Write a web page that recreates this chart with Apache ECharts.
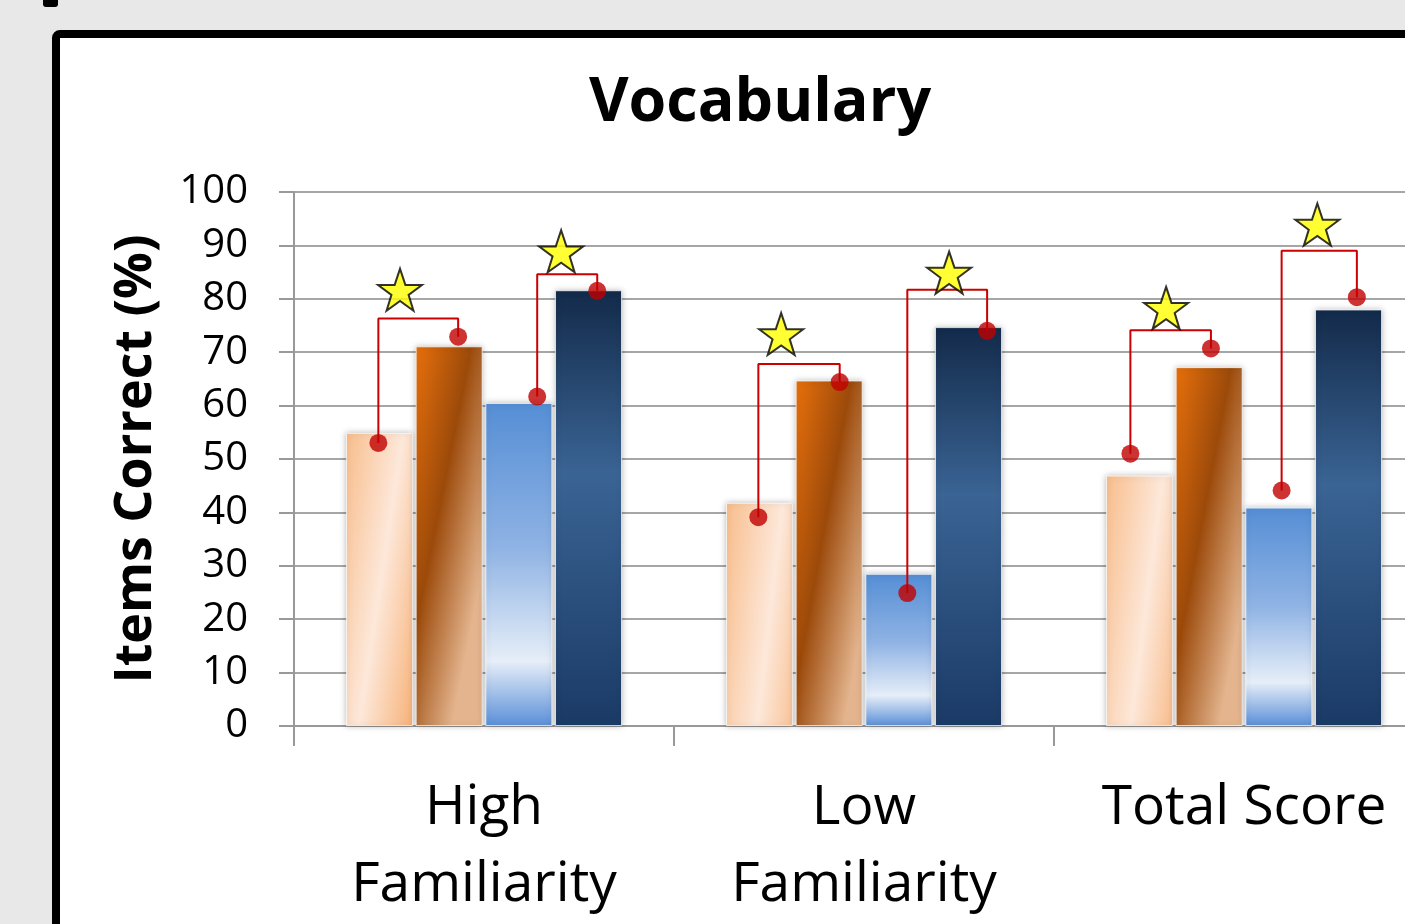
<!DOCTYPE html>
<html>
<head>
<meta charset="UTF-8">
<title>Vocabulary</title>
<style>
  html, body { margin: 0; padding: 0; background: #e8e8e8; overflow: hidden; }
  #chart { width: 1500px; height: 924px; }
</style>
</head>
<body>
<div id="chart"></div>
<script src="https://cdn.jsdelivr.net/npm/echarts@6/dist/echarts.min.js"></script>
<script>
// categories and bar values (% items correct)
const categories = ['High\nFamiliarity', 'Low\nFamiliarity', 'Total Score'];
const lightOrange = [54.9, 41.8, 46.9];
const darkOrange = [71.1, 64.7, 67.2];
const lightBlue = [60.5, 28.5, 40.9];
const darkBlue = [81.6, 74.7, 78.0];

// red dots: x in category units (0..3), y in %
const dotAX = [0.222, 1.222, 2.201];
const dotAY = [53.0, 39.1, 51.0];
const dotBX = [0.432, 1.436, 2.413];
const dotBY = [72.9, 64.4, 70.7];
const dotCX = [0.640, 1.614, 2.599];
const dotCY = [61.7, 24.9, 44.1];
const dotDX = [0.798, 1.824, 2.797];
const dotDY = [81.5, 74.0, 80.3];

// bracket heights
const bracketTop1 = [76.3, 67.8, 74.1];
const bracketTop2 = [84.6, 81.7, 89.0];

// significance stars
const star1X = [0.279, 1.282, 2.295];
const star1Y = [81.7, 73.4, 78.3];
const star2X = [0.703, 1.724, 2.693];
const star2Y = [88.9, 84.9, 93.9];

const font = '"Open Sans", "Noto Sans", sans-serif';
const starPath = 'path://M50,0 L61.8,35.1 L98.1,35.1 L68.8,56.7 L79.4,90.9 L50,70 L20.6,90.9 L31.2,56.7 L1.9,35.1 L38.2,35.1 Z';

function grad(x2, y2, stops) {
  return new echarts.graphic.LinearGradient(0, 0, x2, y2,
    stops.map(s => ({ offset: s[0], color: s[1] })));
}

const barStyle = {
  borderColor: 'rgba(255,255,255,0.7)',
  borderWidth: 1,
  shadowBlur: 6,
  shadowColor: 'rgba(0,0,0,0.25)'
};

function barSeries(data, color) {
  return {
    type: 'bar',
    data: data,
    barWidth: 67,
    barGap: '4%',
    itemStyle: Object.assign({ color: color }, barStyle),
    z: 2
  };
}

const series = [
  barSeries(lightOrange, grad(2, 0.07, [[0, '#f8bd8b'], [0.42, '#fde8da'], [0.8, '#f7b47c']])),
  barSeries(darkOrange, grad(2, 0.07, [[0, '#e8700c'], [0.4, '#9c4a0a'], [0.8, '#e3b48e']])),
  barSeries(lightBlue, grad(0, 1, [[0, '#558ed5'], [0.45, '#8fb3e4'], [0.8, '#e6eef8'], [1, '#5a8fd8']])),
  barSeries(darkBlue, grad(0, 1, [[0, '#132a4a'], [0.42, '#3a6494'], [1, '#1b3a66']]))
];

// brackets
for (let i = 0; i < 3; i++) {
  const pairs = [
    [dotAX[i], dotAY[i], dotBX[i], dotBY[i], bracketTop1[i]],
    [dotCX[i], dotCY[i], dotDX[i], dotDY[i], bracketTop2[i]]
  ];
  pairs.forEach(p => {
    series.push({
      type: 'line',
      xAxisIndex: 1,
      data: [[p[0], p[1]], [p[0], p[4]], [p[2], p[4]], [p[2], p[3]]],
      symbol: 'none',
      lineStyle: { color: '#cc0000', width: 2 },
      z: 5,
      silent: true
    });
  });
}

// dots
const dotData = [];
[[dotAX, dotAY], [dotBX, dotBY], [dotCX, dotCY], [dotDX, dotDY]].forEach(d => {
  d[0].forEach((x, i) => dotData.push([x, d[1][i]]));
});
series.push({
  type: 'scatter',
  xAxisIndex: 1,
  data: dotData,
  symbol: 'circle',
  symbolSize: 18,
  itemStyle: { color: '#c00000' },
  z: 6
});

// stars
const starData = [];
star1X.forEach((x, i) => starData.push([x, star1Y[i]]));
star2X.forEach((x, i) => starData.push([x, star2Y[i]]));
series.push({
  type: 'scatter',
  xAxisIndex: 1,
  data: starData,
  symbol: starPath,
  symbolSize: [44, 42],
  itemStyle: { color: '#ffff00', borderColor: '#000', borderWidth: 2 },
  z: 7
});

const chart = echarts.init(document.getElementById('chart'));
chart.setOption({
  backgroundColor: '#e8e8e8',
  animation: false,
  graphic: [
    { type: 'rect', z: -10, shape: { x: 43, y: -8, width: 15, height: 15, r: 3 }, style: { fill: '#000' } },
    { type: 'rect', z: -10, shape: { x: 56, y: 34, width: 1600, height: 1000, r: 4 }, style: { fill: '#fff', stroke: '#000', lineWidth: 8 } },
    { type: 'text', z: 10, x: 760, y: 104, style: { text: 'Vocabulary', fontFamily: font, fontWeight: 'bold', fontSize: 61, fill: '#000', align: 'center', verticalAlign: 'middle' } }
  ],
  grid: { left: 294, top: 192, width: 1140, height: 535 },
  xAxis: [
    {
      type: 'category',
      data: categories,
      axisLine: { show: true, lineStyle: { color: '#999', width: 2 } },
      axisTick: { show: true, interval: 0, length: 20, lineStyle: { color: '#999', width: 2 } },
      axisLabel: { color: '#000', fontFamily: font, fontSize: 55, lineHeight: 77, margin: 44 }
    },
    { type: 'value', min: 0, max: 3, show: false }
  ],
  yAxis: {
    type: 'value',
    min: 0,
    max: 100,
    interval: 10,
    name: 'Items Correct (%)',
    nameLocation: 'middle',
    nameGap: 132,
    nameTextStyle: { color: '#000', fontFamily: font, fontWeight: 'bold', fontSize: 52 },
    axisLine: { show: true, lineStyle: { color: '#999', width: 2 } },
    axisTick: { show: true, length: 15, lineStyle: { color: '#999', width: 2 } },
    axisLabel: { color: '#000', fontFamily: font, fontSize: 40, margin: 46 },
    splitLine: { lineStyle: { color: '#a6a6a6', width: 2 } }
  },
  series: series
});
</script>
</body>
</html>
